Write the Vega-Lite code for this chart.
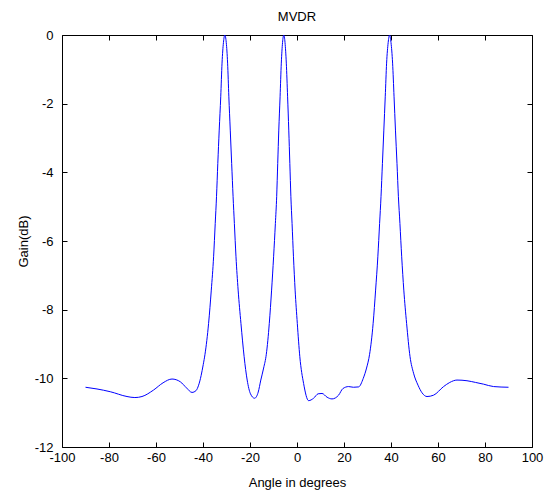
{
  "$schema": "https://vega.github.io/schema/vega-lite/v6.json",
  "autosize": "none",
  "width": 470,
  "height": 412,
  "padding": {"left": 62, "top": 35, "right": 12, "bottom": 43},
  "background": "white",
  "title": {"text": "MVDR", "font": "Liberation Sans", "fontSize": 13, "fontWeight": "normal", "color": "black", "offset": 5},
  "config": {
    "view": {"stroke": "black", "strokeWidth": 1},
    "axis": {
      "grid": false,
      "domain": false,
      "tickColor": "black",
      "labelColor": "black",
      "titleColor": "black",
      "labelFont": "Liberation Sans",
      "titleFont": "Liberation Sans",
      "labelFontSize": 13,
      "titleFontSize": 13,
      "titleFontWeight": "normal",
      "labelFlush": false,
      "labelOverlap": false,
      "labelExpr": "'' + datum.value",
      "tickSize": 5,
      "offset": -5
    }
  },
  "data": {"values": [
    {"angle": -90, "gain": -10.26},
    {"angle": -85.1, "gain": -10.31},
    {"angle": -79.45, "gain": -10.39},
    {"angle": -72.34, "gain": -10.53},
    {"angle": -69, "gain": -10.56},
    {"angle": -65.96, "gain": -10.53},
    {"angle": -61.02, "gain": -10.34},
    {"angle": -57, "gain": -10.13},
    {"angle": -53.19, "gain": -10.02},
    {"angle": -49.66, "gain": -10.10},
    {"angle": -47, "gain": -10.28},
    {"angle": -44.68, "gain": -10.41},
    {"angle": -43, "gain": -10.36},
    {"angle": -41.87, "gain": -10.2},
    {"angle": -40.8, "gain": -9.92},
    {"angle": -39.9, "gain": -9.6},
    {"angle": -39.15, "gain": -9.3},
    {"angle": -37.62, "gain": -8.40},
    {"angle": -36.47, "gain": -7.43},
    {"angle": -35.49, "gain": -6.46},
    {"angle": -34.8, "gain": -5.49},
    {"angle": -34.25, "gain": -4.71},
    {"angle": -33.7, "gain": -3.74},
    {"angle": -33.1, "gain": -2.77},
    {"angle": -32.45, "gain": -1.80},
    {"angle": -31.9, "gain": -0.82},
    {"angle": -31.3, "gain": -0.22},
    {"angle": -30.72, "gain": 0},
    {"angle": -30.1, "gain": -0.22},
    {"angle": -29.53, "gain": -0.82},
    {"angle": -29.0, "gain": -1.80},
    {"angle": -28.4, "gain": -2.77},
    {"angle": -27.8, "gain": -3.74},
    {"angle": -27.2, "gain": -4.71},
    {"angle": -26.65, "gain": -5.49},
    {"angle": -25.96, "gain": -6.46},
    {"angle": -25.05, "gain": -7.43},
    {"angle": -23.85, "gain": -8.40},
    {"angle": -22.5, "gain": -9.37},
    {"angle": -21.2, "gain": -10.05},
    {"angle": -19.8, "gain": -10.45},
    {"angle": -18.04, "gain": -10.58},
    {"angle": -16.5, "gain": -10.4},
    {"angle": -15.4, "gain": -10.05},
    {"angle": -14.2, "gain": -9.7},
    {"angle": -13.06, "gain": -9.3},
    {"angle": -11.79, "gain": -8.40},
    {"angle": -10.81, "gain": -7.43},
    {"angle": -9.96, "gain": -6.46},
    {"angle": -9.2, "gain": -5.49},
    {"angle": -8.65, "gain": -4.71},
    {"angle": -8.2, "gain": -3.74},
    {"angle": -7.75, "gain": -2.77},
    {"angle": -7.2, "gain": -1.80},
    {"angle": -6.68, "gain": -0.82},
    {"angle": -6.15, "gain": -0.22},
    {"angle": -5.62, "gain": 0},
    {"angle": -5.1, "gain": -0.22},
    {"angle": -4.55, "gain": -0.82},
    {"angle": -4.0, "gain": -1.80},
    {"angle": -3.5, "gain": -2.77},
    {"angle": -3.05, "gain": -3.74},
    {"angle": -2.6, "gain": -4.71},
    {"angle": -2.1, "gain": -5.49},
    {"angle": -1.5, "gain": -6.46},
    {"angle": -0.8, "gain": -7.43},
    {"angle": 0.13, "gain": -8.40},
    {"angle": 1.2, "gain": -9.37},
    {"angle": 2.81, "gain": -10.15},
    {"angle": 4.94, "gain": -10.65},
    {"angle": 7.06, "gain": -10.58},
    {"angle": 9, "gain": -10.45},
    {"angle": 10.64, "gain": -10.44},
    {"angle": 12.8, "gain": -10.55},
    {"angle": 14.89, "gain": -10.60},
    {"angle": 17.70, "gain": -10.49},
    {"angle": 19.5, "gain": -10.3},
    {"angle": 21.96, "gain": -10.24},
    {"angle": 24, "gain": -10.26},
    {"angle": 26.21, "gain": -10.25},
    {"angle": 28.2, "gain": -10.0},
    {"angle": 29.6, "gain": -9.7},
    {"angle": 30.89, "gain": -9.3},
    {"angle": 32.4, "gain": -8.40},
    {"angle": 33.45, "gain": -7.43},
    {"angle": 34.4, "gain": -6.46},
    {"angle": 35.15, "gain": -5.49},
    {"angle": 35.75, "gain": -4.71},
    {"angle": 36.35, "gain": -3.74},
    {"angle": 36.95, "gain": -2.77},
    {"angle": 37.55, "gain": -1.80},
    {"angle": 38.13, "gain": -0.82},
    {"angle": 38.8, "gain": -0.22},
    {"angle": 39.4, "gain": 0},
    {"angle": 40.0, "gain": -0.22},
    {"angle": 40.68, "gain": -0.82},
    {"angle": 41.3, "gain": -1.80},
    {"angle": 41.9, "gain": -2.77},
    {"angle": 42.55, "gain": -3.74},
    {"angle": 43.15, "gain": -4.71},
    {"angle": 43.8, "gain": -5.49},
    {"angle": 44.55, "gain": -6.46},
    {"angle": 45.45, "gain": -7.43},
    {"angle": 46.64, "gain": -8.40},
    {"angle": 48.1, "gain": -9.37},
    {"angle": 49.6, "gain": -9.85},
    {"angle": 51.5, "gain": -10.2},
    {"angle": 53.19, "gain": -10.42},
    {"angle": 55.32, "gain": -10.53},
    {"angle": 58.13, "gain": -10.49},
    {"angle": 62.38, "gain": -10.24},
    {"angle": 65, "gain": -10.12},
    {"angle": 68.09, "gain": -10.05},
    {"angle": 72.34, "gain": -10.07},
    {"angle": 76, "gain": -10.12},
    {"angle": 79.4, "gain": -10.17},
    {"angle": 83.66, "gain": -10.24},
    {"angle": 90, "gain": -10.26}
  ]},
  "layer": [
    {
      "mark": {"type": "line", "color": "#0000ff", "strokeWidth": 1, "interpolate": "monotone", "clip": true},
      "encoding": {
        "x": {"field": "angle", "type": "quantitative", "scale": {"domain": [-100, 100], "nice": false},
          "axis": {"orient": "bottom", "values": [-100, -80, -60, -40, -20, 0, 20, 40, 60, 80, 100], "title": "Angle in degrees", "labelPadding": 4, "titlePadding": 12}},
        "y": {"field": "gain", "type": "quantitative", "scale": {"domain": [-12, 0], "nice": false, "zero": false},
          "axis": {"orient": "left", "values": [-12, -10, -8, -6, -4, -2, 0], "title": "Gain(dB)", "labelPadding": 9, "titlePadding": 4}}
      }
    },
    {
      "mark": {"type": "line", "opacity": 0},
      "encoding": {
        "x": {"field": "angle", "type": "quantitative", "axis": {"orient": "top", "values": [-100, -80, -60, -40, -20, 0, 20, 40, 60, 80, 100], "labels": false, "title": null}},
        "y": {"field": "gain", "type": "quantitative", "axis": {"orient": "right", "values": [-12, -10, -8, -6, -4, -2, 0], "labels": false, "title": null}}
      }
    }
  ],
  "resolve": {"axis": {"x": "independent", "y": "independent"}}
}
